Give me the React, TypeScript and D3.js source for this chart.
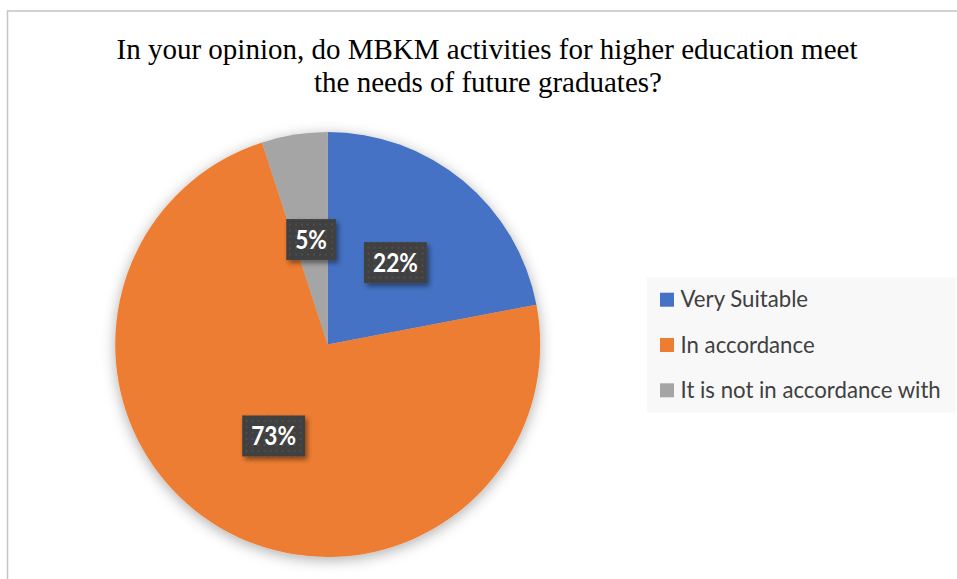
import React from "react";
import * as d3 from "d3";

const categories = ["Very Suitable", "In accordance", "It is not in accordance with"];
const values = [22, 73, 5];
const labels = ["22%", "73%", "5%"];
const colors = ["#4472C4", "#ED7D31", "#A5A5A5"];
const titleLines = [
  "In your opinion, do MBKM activities for higher education meet",
  "the needs of future graduates?",
];

const W = 957;
const H = 579;
const cx = 327.7;
const cy = 344.5;
const R = 212.5;

const LABEL_SIZE = 26;
const LABEL_FONT = `bold ${LABEL_SIZE}px Lato`;
const SQUEEZE = 0.87;
function measure(text: string, font: string): number {
  const c = document.createElement("canvas");
  const ctx = c.getContext("2d");
  if (!ctx) return text.length * 14;
  ctx.font = font;
  return ctx.measureText(text).width;
}

export default function App() {
  const pie = d3.pie<number>().sort(null).value((d) => d);
  const arcs = pie(values);
  const arc = d3.arc<d3.PieArcDatum<number>>().innerRadius(0).outerRadius(R);

  return (
    <svg
      width={W}
      height={H}
      style={{ position: "absolute", left: 0, top: 0 }}
    >
      <defs>
        <filter id="pieShadow" x="-20%" y="-20%" width="140%" height="140%">
          <feDropShadow dx="0" dy="3" stdDeviation="7" floodColor="#000" floodOpacity="0.32" />
        </filter>
        <filter id="boxShadow" x="-30%" y="-30%" width="160%" height="170%">
          <feDropShadow dx="2.5" dy="3" stdDeviation="2.5" floodColor="#000" floodOpacity="0.45" />
        </filter>
        <pattern id="dots" width="6" height="6" patternUnits="userSpaceOnUse">
          <rect width="6" height="6" fill="#404040" />
          <rect x="2" y="2" width="2" height="2" fill="#4e4e4e" />
        </pattern>
      </defs>
      <rect x={0} y={0} width={W} height={H} fill="#ffffff" />
      <path
        d={`M7.5,${H} L7.5,11 L${W},11`}
        fill="none"
        stroke="#c4c4c4"
        strokeWidth={1.5}
      />
      <g fontFamily="'Liberation Serif', 'Times New Roman', serif" fontSize={29} fill="#000" textAnchor="middle">
        <text x={487} y={59}>{titleLines[0]}</text>
        <text x={488} y={91.5}>{titleLines[1]}</text>
      </g>
      <g transform={`translate(${cx},${cy})`}>
        <g filter="url(#pieShadow)">
          {arcs.map((a, i) => (
            <path key={i} d={arc(a) || ""} fill={colors[i]} />
          ))}
        </g>
        {arcs.map((a, i) => {
          const [lx, ly] = arc.centroid(a);
          const tw = measure(labels[i], LABEL_FONT) * SQUEEZE;
          const bw = tw + 18;
          const bh = 41;
          return (
            <g key={"l" + i} transform={`translate(${lx},${ly})`}>
              <rect
                x={-bw / 2}
                y={-bh / 2}
                width={bw}
                height={bh}
                fill="url(#dots)"
                filter="url(#boxShadow)"
              />
              <text
                x={0}
                y={9.5}
                textAnchor="middle"
                fontFamily="Lato, 'Open Sans', sans-serif"
                fontWeight="bold"
                fontSize={LABEL_SIZE}
                fill="#ffffff"
                textLength={tw}
                lengthAdjust="spacingAndGlyphs"
              >
                {labels[i]}
              </text>
            </g>
          );
        })}
      </g>
      <rect x={647} y={277.5} width={309} height={135} fill="#f8f8f8" />
      {categories.map((c, i) => {
        const y = 299.7 + i * 45.3;
        return (
          <g key={"lg" + i}>
            <rect x={660} y={y - 7} width={14} height={14} fill={colors[i]} />
            <text
              x={680.5}
              y={y + 7.5}
              fontFamily="Lato, 'Open Sans', sans-serif"
              fontSize={22.2}
              fill="#404040"
            >
              {c}
            </text>
          </g>
        );
      })}
    </svg>
  );
}
